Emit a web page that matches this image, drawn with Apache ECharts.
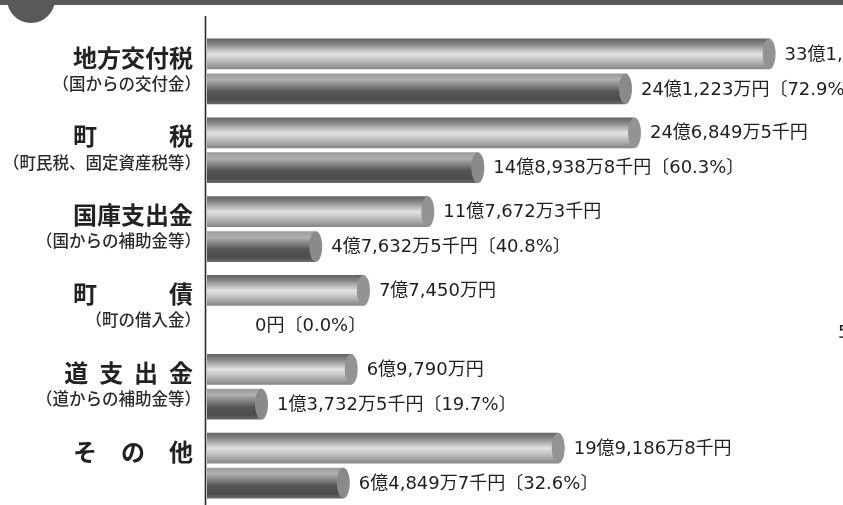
<!DOCTYPE html>
<html>
<head>
<meta charset="utf-8">
<script src="https://cdn.jsdelivr.net/npm/echarts@6/dist/echarts.min.js"></script>
<style>
html,body{margin:0;padding:0;background:#fff;}
#chart{width:843px;height:505px;}
</style>
</head>
<body>
<div id="chart"></div>
<script>
// Values in 万円
const categories = ['地方交付税', '町　　　税', '国庫支出金', '町　　　債', '道  支  出  金', 'そ　の　他'];
const subtitles = ['（国からの交付金）', '（町民税、固定資産税等）', '（国からの補助金等）', '（町の借入金）', '（道からの補助金等）', ''];
const budget = [331000, 246849.5, 117672.3, 77450, 69790, 199186.8];
const actual = [241223, 148938.8, 47632.5, 0, 13732.5, 64849.7];
const budgetLabels = ['33億1,000万円', '24億6,849万5千円', '11億7,672万3千円', '7億7,450万円', '6億9,790万円', '19億9,186万8千円'];
const actualLabels = ['24億1,223万円〔72.9%〕', '14億8,938万8千円〔60.3%〕', '4億7,632万5千円〔40.8%〕', '0円〔0.0%〕', '1億3,732万5千円〔19.7%〕', '6億4,849万7千円〔32.6%〕'];

const X_MIN = -25000, X_MAX = 350000;
const FONT = '"Noto Sans CJK JP", "Noto Sans CJK SC", sans-serif';
const VFONT = '"DejaVu Sans", "Noto Sans CJK JP", sans-serif';

const chart = echarts.init(document.getElementById('chart'), null, {renderer: 'canvas'});

const gradBudget = [
  {offset: 0, color: '#626262'},
  {offset: 0.18, color: '#868686'},
  {offset: 0.5, color: '#e2e2e2'},
  {offset: 0.62, color: '#d0d0d0'},
  {offset: 1, color: '#858585'}
];
const gradActual = [
  {offset: 0, color: '#9a9a9a'},
  {offset: 0.2, color: '#b0b0b0'},
  {offset: 0.6, color: '#555555'},
  {offset: 0.85, color: '#4c4c4c'},
  {offset: 1, color: '#6c6c6c'}
];

function makeRender(kind, labels) {
  return function (params, api) {
    const v = api.value(0);
    const ci = api.value(1);
    const band = api.size([0, 1])[1];
    const off = (kind === 0 ? -1 : 1) * band * 0.221;
    const h = band * 0.39;
    const c = api.coord([v, ci]);
    const yc = c[1] + off;
    const x0 = api.coord([X_MIN, ci])[0] + 1;
    const xe = c[0];
    const rx = h * 0.21;
    const children = [];
    if (v > 0) {
      children.push({
        type: 'rect',
        shape: {x: x0, y: yc - h / 2, width: Math.max(0, xe - rx - x0), height: h},
        style: {fill: new echarts.graphic.LinearGradient(0, 0, 0, 1, kind === 0 ? gradBudget : gradActual)}
      });
      children.push({
        type: 'ellipse',
        shape: {cx: xe - rx, cy: yc, rx: rx, ry: h / 2},
        style: {fill: kind === 0 ? '#939393' : '#8a8a8a'}
      });
    }
    children.push({
      type: 'text',
      x: xe + 9,
      y: yc + 1,
      style: {
        text: labels[params.dataIndex],
        fontFamily: VFONT,
        fontSize: 18,
        fill: '#1e1e1e',
        align: 'left',
        verticalAlign: 'middle'
      }
    });
    return {type: 'group', children: children};
  };
}

const option = {
  animation: false,
  backgroundColor: '#ffffff',
  grid: {left: 206, right: 37, top: 32, height: 475, containLabel: false},
  xAxis: {
    type: 'value', min: X_MIN, max: X_MAX,
    show: false
  },
  yAxis: {
    type: 'category',
    inverse: true,
    data: categories,
    axisLine: {show: false},
    axisTick: {show: false},
    splitLine: {show: false},
    axisLabel: {
      margin: 5,
      formatter: function (val, idx) {
        return '{a|' + val + '}\n{b|' + (subtitles[idx] || '　') + '}';
      },
      rich: {
        a: {fontFamily: FONT, fontSize: 24, fontWeight: 'bold', color: '#222', lineHeight: 24, align: 'right', padding: [0, 8, 0, 0]},
        b: {fontFamily: FONT, fontSize: 16.5, fontWeight: 500, color: '#2a2a2a', lineHeight: 28, align: 'right'}
      }
    }
  },
  graphic: [
    {type: 'rect', shape: {x: 0, y: 0, width: 843, height: 5}, style: {fill: '#59595b'}},
    {type: 'circle', shape: {cx: 31, cy: -1, r: 24}, style: {fill: '#59595b'}},
    {type: 'line', shape: {x1: 205.5, y1: 16, x2: 205.5, y2: 505}, style: {stroke: '#2a2a2a', lineWidth: 1.6}},
    {type: 'text', x: 838, y: 333, style: {text: '5', fontFamily: VFONT, fontSize: 18, fill: '#1e1e1e', verticalAlign: 'middle'}}
  ],
  series: [
    {
      type: 'custom',
      name: '予算',
      renderItem: makeRender(0, budgetLabels),
      encode: {x: 0, y: 1},
      data: budget.map((v, i) => [v, i])
    },
    {
      type: 'custom',
      name: '決算',
      renderItem: makeRender(1, actualLabels),
      encode: {x: 0, y: 1},
      data: actual.map((v, i) => [v, i])
    }
  ]
};
chart.setOption(option);
</script>
</body>
</html>
